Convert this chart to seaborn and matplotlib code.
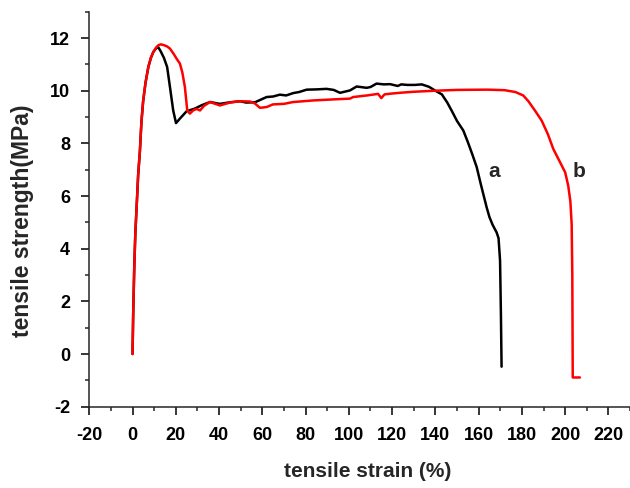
import matplotlib
matplotlib.use("Agg")
import matplotlib.pyplot as plt
import seaborn as sns
import pandas as pd
from matplotlib.ticker import MultipleLocator

# Curve a (black)
strain_a = [0, 0.3, 0.8, 1.3, 1.9, 2.6, 3.4, 4.1, 4.9, 6.0, 7.3, 8.5, 9.6, 11.0, 11.9, 13.0, 14.5, 16.0, 17.3, 18.8,
            20.1, 22.0, 25.0, 28.8, 32.0, 35.8, 40.4, 45.0, 49.7, 52.5, 56.6, 59.0, 62.0, 65.0, 68.1, 71.0, 74.3, 77.0,
            80.5, 85.0, 89.7, 93.0, 95.9, 100.5, 103.6, 108.2, 110.0, 112.8, 116.2, 119.0, 122.6, 124.2, 127.0, 130.5,
            133.7, 137.0, 140.0, 143.0, 145.5, 147.8, 150.0, 152.9, 155.0, 157.0, 159.1, 161.0, 163.7, 165.0, 166.5,
            168.3, 169.2, 169.9, 170.3, 170.6]
stress_a = [0, 1.5, 3.3, 4.6, 5.6, 6.8, 7.7, 8.8, 9.6, 10.3, 10.9, 11.25, 11.47, 11.62, 11.65, 11.5, 11.25, 10.9, 10.14,
            9.25, 8.77, 8.95, 9.22, 9.32, 9.45, 9.57, 9.5, 9.56, 9.6, 9.55, 9.56, 9.65, 9.76, 9.78, 9.85, 9.82, 9.91, 9.95,
            10.04, 10.05, 10.07, 10.03, 9.92, 10.01, 10.16, 10.11, 10.14, 10.27, 10.24, 10.25, 10.18, 10.24, 10.22,
            10.22, 10.24, 10.15, 10.0, 9.86, 9.55, 9.2, 8.85, 8.49, 8.05, 7.6, 7.1, 6.45, 5.57, 5.2, 4.9, 4.62, 4.4,
            3.55, 1.5, -0.48]

# Curve b (red)
strain_b = [0, 0.3, 0.8, 1.3, 1.9, 2.6, 3.4, 4.1, 4.9, 6.0, 7.3, 8.5, 9.6, 11.0, 12.0, 13.1, 14.5, 16.0, 17.3, 19.0,
            20.5, 21.9, 23.0, 24.2, 25.3, 26.5, 28.0, 29.6, 31.2, 33.0, 35.8, 40.4, 45.0, 49.7, 54.3, 56.5, 58.9, 62.0,
            64.9, 70.0, 74.2, 83.5, 92.8, 100.5, 102.0, 108.4, 113.5, 115.0, 116.5, 119.5, 125.0, 130.0, 135.0, 140.0,
            150.0, 164.0, 172.0, 177.0, 180.6, 183.0, 186.0, 189.1, 192.0, 194.5, 197.6, 200.0, 201.4, 202.4, 203.0,
            203.3, 203.5, 206.8]
stress_b = [0, 1.5, 3.3, 4.6, 5.6, 6.8, 7.7, 8.8, 9.6, 10.3, 10.9, 11.25, 11.47, 11.65, 11.73, 11.76, 11.73, 11.68,
            11.6, 11.4, 11.2, 11.03, 10.7, 10.14, 9.25, 9.13, 9.25, 9.31, 9.25, 9.42, 9.57, 9.44, 9.55, 9.6, 9.59, 9.52,
            9.35, 9.38, 9.48, 9.5, 9.57, 9.63, 9.67, 9.7, 9.76, 9.82, 9.88, 9.72, 9.86, 9.89, 9.93, 9.96, 9.98, 10.0,
            10.03, 10.04, 10.02, 9.95, 9.82, 9.6, 9.25, 8.87, 8.35, 7.79, 7.29, 6.9, 6.4, 5.8, 4.94, 3.0, -0.89, -0.89]

x_ticks = list(range(-20, 221, 20))
y_ticks = list(range(-2, 13, 2))

df_a = pd.DataFrame({"strain": strain_a, "stress": stress_a})
df_b = pd.DataFrame({"strain": strain_b, "stress": stress_b})

sns.set_style("ticks")
plt.rcParams["font.family"] = ["Liberation Sans", "DejaVu Sans"]
plt.rcParams["axes.unicode_minus"] = False

fig = plt.figure(figsize=(6.3, 4.88), dpi=100)
ax = fig.add_axes([0.1417, 0.1666, 0.8584, 0.8094])

sns.lineplot(data=df_a, x="strain", y="stress", sort=False, estimator=None, color="black", linewidth=1.8, ax=ax)
sns.lineplot(data=df_b, x="strain", y="stress", sort=False, estimator=None, color="#ff0000", linewidth=1.8, ax=ax)

ax.set_xlim(-20, 230)
ax.set_ylim(-2, 13)
ax.set_xticks(x_ticks)
ax.set_yticks(y_ticks)
ax.xaxis.set_minor_locator(MultipleLocator(10))
ax.yaxis.set_minor_locator(MultipleLocator(1))
ax.tick_params(which="major", direction="out", length=5.8, width=1.1, labelsize=13, colors="black")
ax.tick_params(which="minor", direction="out", length=3, width=1.1)
ax.tick_params(axis="x", which="major", pad=9)
ax.tick_params(axis="y", which="major", pad=8)
for lab in ax.get_xticklabels() + ax.get_yticklabels():
    lab.set_fontweight("bold")

ax.spines["top"].set_visible(False)
ax.spines["right"].set_visible(False)
ax.spines["left"].set_linewidth(1.1)
ax.spines["bottom"].set_linewidth(1.1)

ax.set_xlabel("tensile strain (%)", fontsize=15, fontweight="bold")
ax.set_ylabel("tensile strength(MPa)", fontsize=16.5, fontweight="bold")
ax.xaxis.label.set_va("center")
ax.yaxis.label.set_va("center")
ax.xaxis.set_label_coords(0.514, -0.165)
ax.yaxis.set_label_coords(-0.1235, 0.47)

ax.text(167.1, 6.93, "a", fontsize=15, fontweight="bold", ha="center", va="center")
ax.text(206.2, 6.93, "b", fontsize=15, fontweight="bold", ha="center", va="center")

fig.savefig("out.png", dpi=100)
